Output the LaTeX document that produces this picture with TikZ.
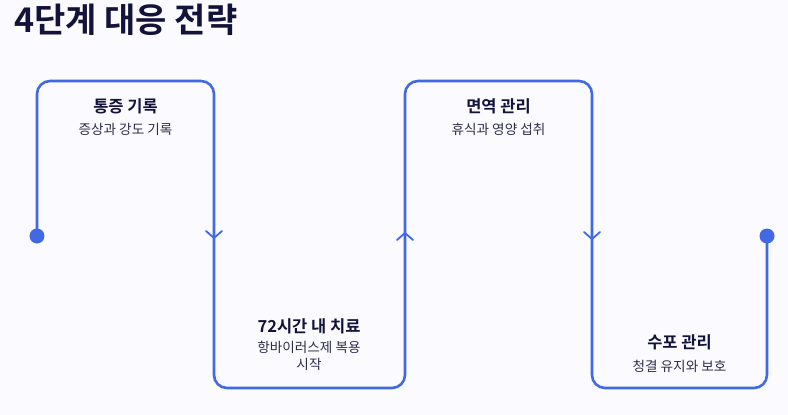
\documentclass[tikz,border=0pt]{standalone}
\usepackage{fontspec}
\setmainfont{Noto Sans CJK KR}
\newfontfamily\krbold{Noto Sans CJK KR Bold}
\usetikzlibrary{calc}
\definecolor{bgc}{HTML}{FAFAFF}
\definecolor{linec}{HTML}{4169E1}
\definecolor{txtc}{HTML}{13133A}
\definecolor{subc}{HTML}{2E2E4A}
\begin{document}
\begin{tikzpicture}[x=1pt,y=-1pt,
  flow/.style={draw=linec,line width=2.6pt,rounded corners=13pt,line join=round},
  chev/.style={draw=linec,line width=1.8pt,line cap=round,line join=miter},
  head/.style={text=txtc,font=\krbold\fontsize{16.5}{19}\selectfont,inner sep=0pt},
  sub/.style={text=subc,font=\fontsize{13.6}{17}\selectfont,inner sep=0pt,align=center},
  dotc/.style={fill=linec,draw=none}]
\fill[bgc] (0,0) rectangle (788,415);
\useasboundingbox (0,0) rectangle (788,415);
\node[anchor=west,text=txtc,font=\krbold\fontsize{34}{37}\selectfont,inner sep=0pt] (title) at (14,19.5) {4단계 대응 전략};
% path coordinates
\coordinate (s) at (37,236);
\coordinate (e) at (767,236);
\draw[flow] (s) -- (37,81) -- (214,81) -- (214,388) -- (405,388) -- (405,81) -- (592,81) -- (592,388) -- (767,388) -- (e);
\fill[dotc] (s) circle (7.5);
\fill[dotc] (e) circle (7.5);
% chevrons
\coordinate (a1) at (214,238);
\coordinate (a2) at (405,233);
\coordinate (a3) at (592,239);
\draw[chev] ($(a1)+(-8,-7)$) -- (a1) -- ($(a1)+(8,-7)$);
\draw[chev] ($(a2)+(-8,7)$) -- (a2) -- ($(a2)+(8,7)$);
\draw[chev] ($(a3)+(-8,-7)$) -- (a3) -- ($(a3)+(8,-7)$);
% texts
\node[head] (h1) at (125.5,106.5) {통증 기록};
\node[sub] (s1) at (125.5,129) {증상과 강도 기록};
\node[head] (h2) at (309,326) {72시간 내 치료};
\node[sub,anchor=north] (s2) at (309,340.5) {항바이러스제 복용\\시작};
\node[head] (h3) at (498.5,106.5) {면역 관리};
\node[sub] (s3) at (498.5,129) {휴식과 영양 섭취};
\node[head] (h4) at (679.5,342) {수포 관리};
\node[sub] (s4) at (679.5,366) {청결 유지와 보호};
\end{tikzpicture}
\end{document}
